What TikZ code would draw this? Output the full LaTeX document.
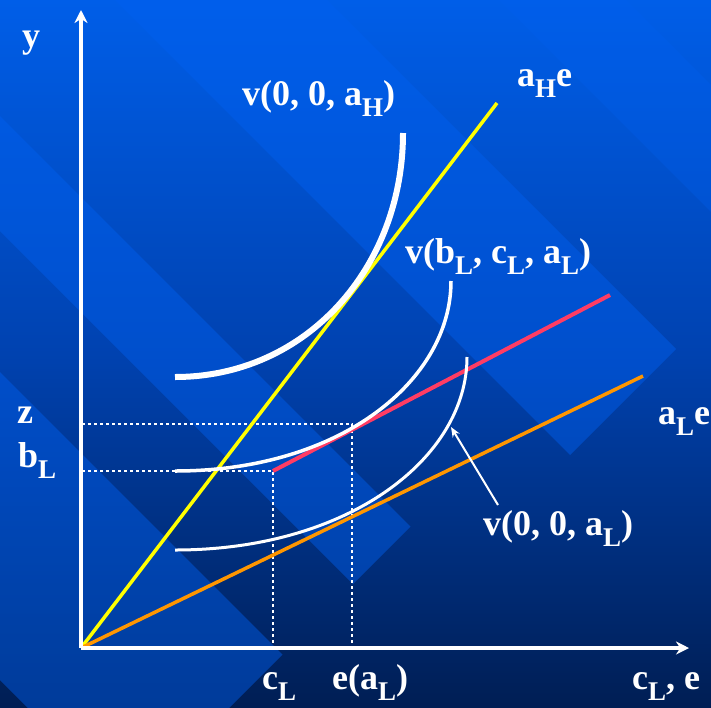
\documentclass[tikz,border=0pt]{standalone}
\usepackage{fontspec}
\setmainfont{Liberation Serif}
\usetikzlibrary{arrows.meta}
\newcommand\sbs[1]{\raisebox{-11pt}{\fontsize{27}{27}\selectfont #1}}
\definecolor{bgtop}{RGB}{0,94,232}
\definecolor{bgmid}{RGB}{0,66,176}
\definecolor{bgbot}{RGB}{0,30,84}
\definecolor{bandc}{RGB}{0,96,240}
\definecolor{lyellow}{RGB}{255,255,0}
\definecolor{lred}{RGB}{255,60,100}
\definecolor{lorange}{RGB}{255,150,0}
\tikzset{
  lbl/.style={inner sep=0pt, anchor=base west, text=white, font=\fontsize{36}{40}\selectfont\bfseries},
  axis/.style={white, line width=4pt, -{Stealth[length=13pt,width=13pt]}},
  guide/.style={white, line width=2.5pt, dash pattern=on 3pt off 3pt},
  band/.style={fill=bandc, fill opacity=0.45},
  curve/.style={white},
}
\begin{document}
\begin{tikzpicture}[x=1pt,y=-1pt]
\useasboundingbox (0,0) rectangle (711,707);
% background
\shade[top color=bgtop, bottom color=bgbot, middle color=bgmid] (0,0) rectangle (711,707);
\begin{scope}
\clip (0,0) rectangle (711,707);
\fill[band] (-515.5,-284.5) -- (-458,-342) -- (410.5,526.5) -- (353,584) -- cycle;
\fill[band] (-740,-60) -- (-586,-214) -- (282.5,654.5) -- (128.5,808.5) -- cycle;
\fill[band] (-342.5,-457.5) -- (-236.5,-563.5) -- (676,349) -- (570,455) -- cycle;
\fill[band, fill opacity=0.3] (499,0) -- (626,0) -- (1400,774) -- (1273,774) -- cycle;
\end{scope}
% coordinates
\coordinate (O) at (81,648);
\coordinate (ytip) at (81,10);
\coordinate (xtip) at (689,648);
\coordinate (yel) at (497,103);
\coordinate (org) at (643,376);
\coordinate (r0) at (273,471);
\coordinate (r1) at (610,295);
\coordinate (zl) at (82,424);
\coordinate (zr) at (352,424);
\coordinate (bl) at (82,471);
\coordinate (cx) at (273,646);
\coordinate (ex) at (352,646);
% guides
\draw[guide] (zl) -- (zr) -- (ex);
\draw[guide] (bl) -- (r0) -- (cx);
% lines
\draw[lyellow, line width=3.5pt] (O) -- (yel);
\draw[lorange, line width=3.5pt] (O) -- (org);
\draw[lred, line width=4pt] (r0) -- (r1);
% curves
\draw[curve, line width=6pt] (175,377) .. controls (307,377) and (403,267) .. (403,133);
\draw[curve, line width=3.5pt] (175,471) .. controls (341,471) and (451,380) .. (451,281);
\draw[curve, line width=3pt] (175,550) .. controls (350,550) and (467,457) .. (467,357);
% axes
\draw[axis] (O) -- (ytip);
\draw[axis] (O) -- (xtip);
% labels
\node[lbl] (ly) at (22,47) {y};
\node[lbl] (lvH) at (242,105) {v(0, 0, a\sbs{H})};
\node[lbl] (laH) at (517,86) {a\sbs{H}e};
\node[lbl] (lvb) at (405,263) {v(b\sbs{L}, c\sbs{L}, a\sbs{L})};
\node[lbl] (laL) at (658,424) {a\sbs{L}e};
\node[lbl] (lvL) at (483,535) {v(0, 0, a\sbs{L})};
\node[lbl] (lz) at (17,423) {z};
\node[lbl] (lb) at (18,467) {b\sbs{L}};
\node[lbl] (lc) at (262,689) {c\sbs{L}};
\node[lbl] (le) at (332,689) {e(a\sbs{L})};
\node[lbl] (lx) at (632,689) {c\sbs{L}, e};
% pointer
\coordinate (ptail) at (498,505);
\coordinate (phead) at (451,427);
\draw[white, line width=2pt, -{Stealth[length=10pt,width=8pt]}] (ptail) -- (phead);
\end{tikzpicture}
\end{document}
